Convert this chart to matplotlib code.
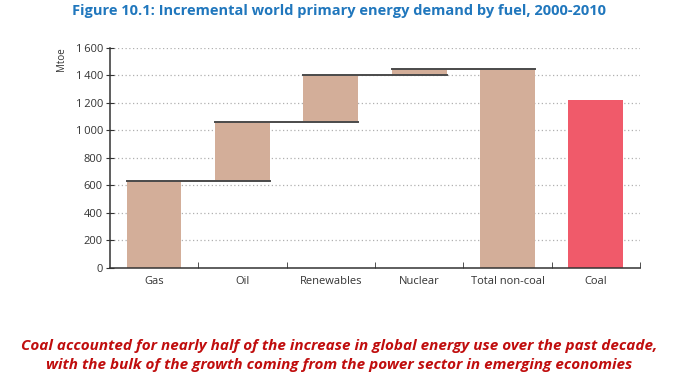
import matplotlib.pyplot as plt
from matplotlib.ticker import FuncFormatter, MultipleLocator, FixedLocator

categories = ['Gas', 'Oil', 'Renewables', 'Nuclear', 'Total non-coal', 'Coal']
increments = [630, 430, 340, 50]
coal = 1225

# waterfall bases
bases = []
tops = []
run = 0
for v in increments:
    bases.append(run)
    run += v
    tops.append(run)
total = run

plt.rcParams['font.family'] = ['Open Sans', 'DejaVu Sans']

fig = plt.figure(figsize=(6.78, 3.81), dpi=100)
ax = fig.add_axes([0.162, 0.297, 0.782, 0.577])

tan = '#d3ae99'
red = '#f05a6a'
w = 0.62
x = list(range(len(categories)))

ax.bar(x[:4], increments, bottom=bases, width=w, color=tan, zorder=2)
ax.bar(x[4], total, width=w, color=tan, zorder=2)
ax.bar(x[5], coal, width=w, color=red, zorder=2)

# connector lines
for i, t in enumerate(tops):
    ax.plot([i - w / 2, i + 1 + w / 2], [t, t], color='#4a4a4a', lw=1.4, zorder=3)

ax.set_xlim(-0.5, 5.5)
ax.set_ylim(0, 1600)
ax.yaxis.set_major_locator(MultipleLocator(200))
ax.yaxis.set_major_formatter(FuncFormatter(lambda v, p: f"{v:,.0f}".replace(',', '\u2009')))
for yv in range(200, 1601, 200):
    ax.axhline(yv, color='#b0b0b0', lw=0.9, ls=(0, (1, 2)), zorder=1)

ax.set_xticks(x)
ax.set_xticklabels(categories)
ax.xaxis.set_minor_locator(FixedLocator([i + 0.5 for i in range(6)]))
ax.tick_params(axis='x', which='major', length=0, labelsize=8, colors='#333333', pad=6)
ax.tick_params(axis='x', which='minor', direction='in', length=4, color='#333333')
ax.tick_params(axis='y', direction='inout', length=6, labelsize=8, colors='#333333', pad=2)

for s in ['top', 'right']:
    ax.spines[s].set_visible(False)
for s in ['left', 'bottom']:
    ax.spines[s].set_color('#333333')
    ax.spines[s].set_linewidth(1.1)

fig.text(0.09, 0.845, 'Mtoe', rotation=90, fontsize=7, color='#333333', ha='center', va='center')

fig.text(0.5, 0.972, 'Figure 10.1: Incremental world primary energy demand by fuel, 2000-2010',
         ha='center', va='center', fontsize=10.5, fontweight='bold', color='#2077bd')

fig.text(0.5, 0.066, 'Coal accounted for nearly half of the increase in global energy use over the past decade,\n'
         'with the bulk of the growth coming from the power sector in emerging economies',
         ha='center', va='center', fontsize=11, fontweight='bold', style='italic',
         color='#c00d0d', linespacing=1.45)

fig.savefig('out.png', dpi=100)
